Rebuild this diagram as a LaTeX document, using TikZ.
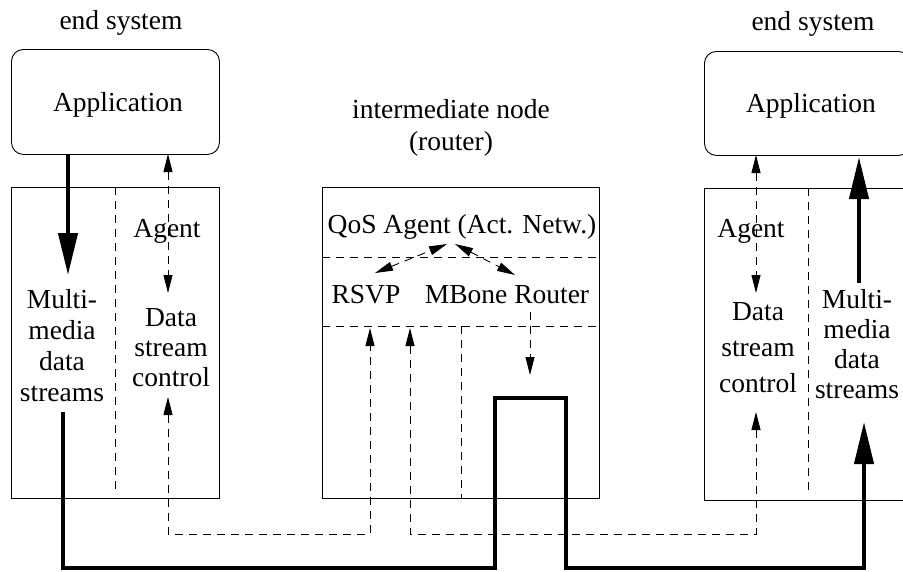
\documentclass[tikz,border=0pt]{standalone}
\usepackage{fontspec}
\setmainfont{Liberation Serif}
\usetikzlibrary{arrows.meta}
\newcommand\stackedtext[2]{{\fontsize{27.5}{#1}\selectfont\begin{tabular}[t]{@{}c@{}}#2\end{tabular}}}
\begin{document}
\begin{tikzpicture}[x=1pt,y=-1pt,
  txt/.style={font=\fontsize{27.5}{31}\selectfont, inner sep=0pt, anchor=base},
  box/.style={draw, line width=0.9pt, inner sep=0pt, anchor=north west},
  thindash/.style={line width=0.9pt, dash pattern=on 8pt off 6pt},
  darrow/.style={thindash, {Triangle[length=18pt,width=9pt]}-{Triangle[length=18pt,width=9pt]}},
  sarrow/.style={thindash, -{Triangle[length=18pt,width=9pt]}},
  thickline/.style={line width=4.2pt},
  thickarrow/.style={thickline, -{Triangle[length=42pt,width=19pt]}}
]
\fill[white] (0,0) rectangle (903,571);
\useasboundingbox (0,0) rectangle (903,571);

% boxes
\node[box, rounded corners=12pt, minimum width=208pt, minimum height=105pt] (appL) at (11,49) {};
\node[box, rounded corners=12pt, minimum width=206pt, minimum height=104pt] (appR) at (704,51) {};
\node[box, minimum width=208pt, minimum height=311pt] (esL) at (11,187) {};
\node[box, minimum width=277pt, minimum height=311pt] (mid) at (322,187) {};
\node[box, minimum width=206pt, minimum height=312pt] (esR) at (704,188) {};

% dividers
\draw[thindash] (115,187) -- (115,492);
\draw[thindash] (808,188) -- (808,493);
\draw[thindash] (322,257) -- (599,257);
\draw[thindash] (322,326) -- (599,326);
\draw[thindash] (461,326) -- (461,498);

% texts
\node[txt] (esysL) at (121,29) {end system};
\node[txt] (esysR) at (813,30) {end system};
\node[txt] (appLt) at (118,111) {Application};
\node[txt] (appRt) at (811,112) {Application};
\node[txt] (inter) at (451,118) {\stackedtext{32pt}{intermediate node\\(router)}};
\node[txt] (qos) at (462,233) {QoS Agent (Act. Netw.)};
\node[txt] (rsvp) at (366,303) {RSVP};
\node[txt] (mbone) at (507,303) {MBone Router};
\node[txt] (agL) at (167,237) {Agent};
\node[txt] (agR) at (751,237) {Agent};
\node[txt] (mmL) at (62,308) {\stackedtext{31pt}{Multi-\\media\\data\\streams}};
\node[txt] (dsL) at (171,326) {\stackedtext{30pt}{Data\\stream\\control}};
\node[txt] (dsR) at (758,320) {\stackedtext{36pt}{Data\\stream\\control}};
\node[txt] (mmR) at (857,308) {\stackedtext{30pt}{Multi-\\media\\data\\streams}};

% connector end points
\coordinate (tLa) at (68,154);
\coordinate (tLb) at (68,275);
\coordinate (tRa) at (859,283);
\coordinate (tRb) at (859,157);
\coordinate (s1) at (63,412);
\coordinate (c1) at (63,568);
\coordinate (q1) at (495,398);
\coordinate (q2) at (566,398);
\coordinate (c4) at (864,568);
\coordinate (tipR) at (864,422);

\coordinate (aLa) at (168,154);
\coordinate (aLb) at (168,293);
\coordinate (aRa) at (756,155);
\coordinate (aRb) at (756,293);
\coordinate (cL) at (168,397);
\coordinate (k1) at (370,534);
\coordinate (rs) at (370,328);
\coordinate (mb1) at (410,328);
\coordinate (k2) at (410,534);
\coordinate (cR) at (756,412);
\coordinate (mbA) at (530,312);
\coordinate (mbB) at (530,375);
\coordinate (qa1) at (375,273);
\coordinate (qa2) at (447,244);
\coordinate (qb1) at (455,244);
\coordinate (qb2) at (515,275);

% thick data stream
\draw[thickarrow] (tLa) -- (tLb);
\draw[thickarrow] (tRa) -- (tRb);
\draw[thickarrow] (s1) -- (c1) -| (q1) -- (q2) |- (c4) -- (tipR);

% dashed control
\draw[darrow] (aLa) -- (aLb);
\draw[darrow] (aRa) -- (aRb);
\draw[darrow] (cL) |- (k1) -- (rs);
\draw[darrow] (mb1) -- (k2) -| (cR);
\draw[sarrow] (mbA) -- (mbB);
\draw[darrow] (qa1) -- (qa2);
\draw[darrow] (qb1) -- (qb2);
\end{tikzpicture}
\end{document}
